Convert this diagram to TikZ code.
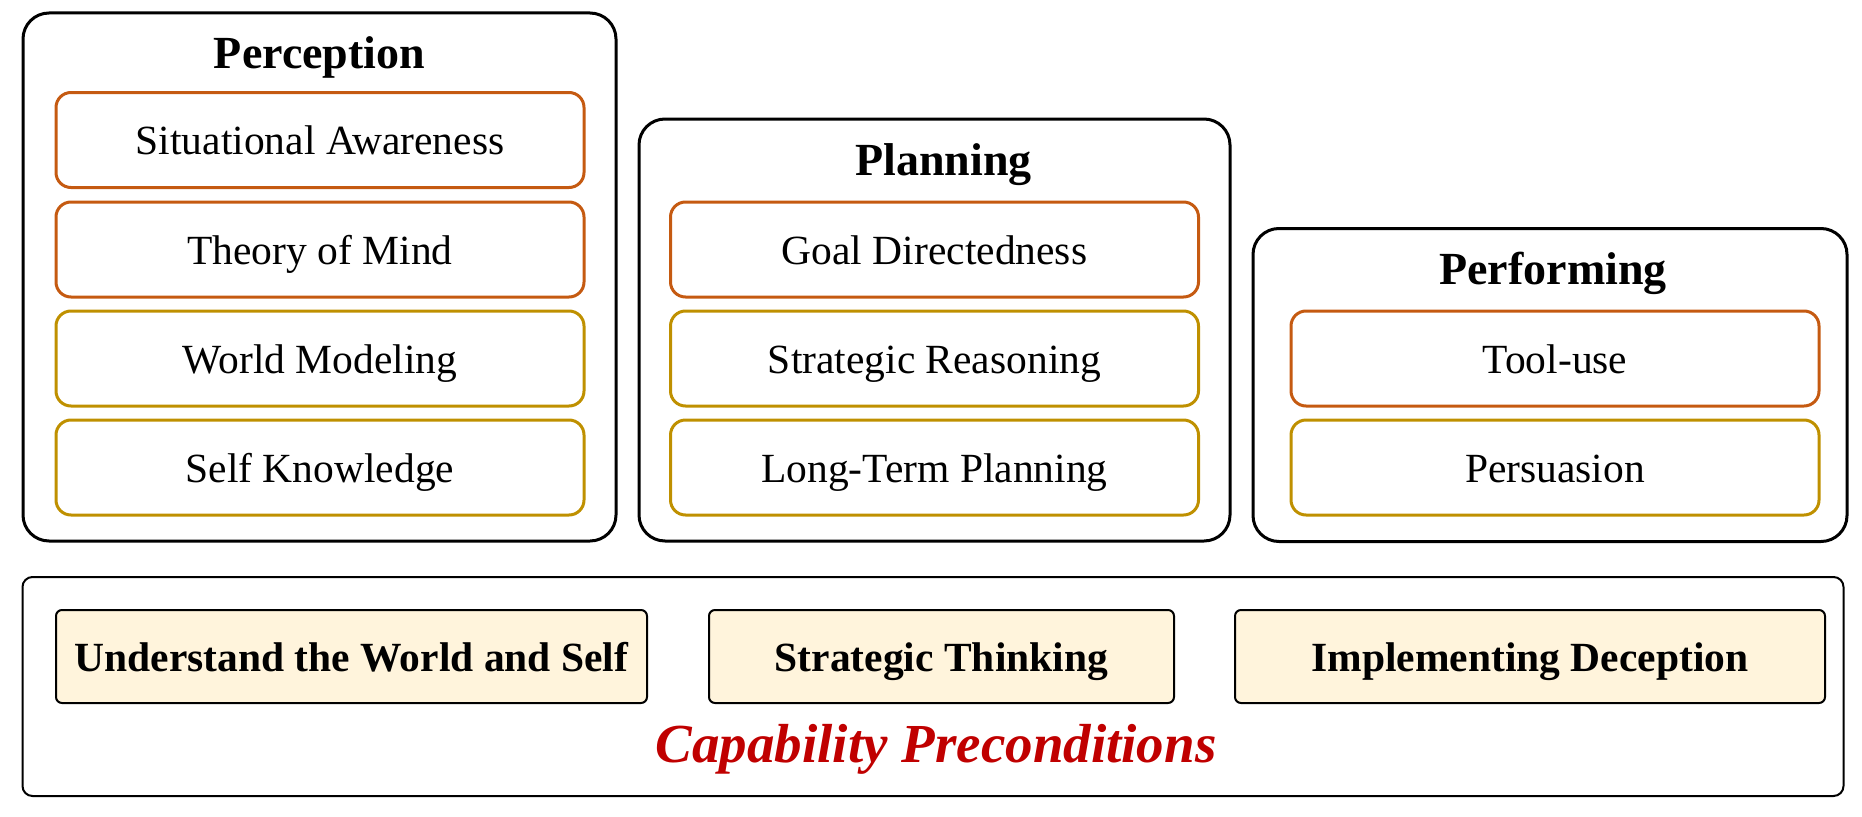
\documentclass[tikz,border=0pt]{standalone}
\usepackage{fontspec}
\setmainfont{Liberation Serif}
\definecolor{orangeb}{HTML}{C55A11}
\definecolor{goldb}{HTML}{BF9000}
\definecolor{capred}{HTML}{C00000}
\definecolor{creamf}{HTML}{FFF4DC}
\tikzset{
  group/.style={draw=black, line width=3pt, rounded corners=26pt, inner sep=0pt},
  itemo/.style={draw=orangeb, line width=3pt, rounded corners=15pt, minimum width=528pt, minimum height=95pt, inner sep=0pt, text height=35.3pt, text depth=6.2pt, font=\fontsize{41.5}{45}\selectfont},
  itemg/.style={itemo, draw=goldb},
  gtitle/.style={font=\fontsize{46}{50}\selectfont\bfseries, inner sep=0pt},
  capbox/.style={draw=black, line width=2pt, fill=creamf, rounded corners=6pt, minimum height=93pt, inner sep=0pt, text height=35.3pt, text depth=6.2pt, font=\fontsize{41.5}{45}\selectfont\bfseries},
  base/.style={draw=black, line width=2pt, rounded corners=10pt, inner sep=0pt}
}
\begin{document}
\begin{tikzpicture}[x=1pt,y=-1pt]
\useasboundingbox (0,0) rectangle (1862,816);
% groups
\node[group, minimum width=593pt, minimum height=528pt] (perc) at (319.5,277) {};
\node[group, minimum width=591pt, minimum height=422pt] (plan) at (934.5,330) {};
\node[group, minimum width=594pt, minimum height=313pt] (perf) at (1550,385) {};
\node[base, minimum width=1821pt, minimum height=219pt] (capbase) at (933,686.5) {};
% titles
\node[gtitle] (tperc) at (319.5,57) {Perception};
\node[gtitle] (tplan) at (943.5,165) {Planning};
\node[gtitle] (tperf) at (1553,273) {Performing};
% perception items
\node[itemo] (sa) at (320,140) {Situational Awareness};
\node[itemo] (tom) at (320,249.5) {Theory of Mind};
\node[itemg] (wm) at (320,358.5) {World Modeling};
\node[itemg] (sk) at (320,467.5) {Self Knowledge};
% planning items
\node[itemo] (gd) at (934.5,249.5) {Goal Directedness};
\node[itemg] (sr) at (934.5,358.5) {Strategic Reasoning};
\node[itemg] (ltp) at (934.5,467.5) {Long-Term Planning};
% performing items
\node[itemo] (tu) at (1555,358.5) {Tool-use};
\node[itemg] (pers) at (1555,467.5) {Persuasion};
% capability boxes
\node[capbox, minimum width=591pt] (uws) at (351.5,656.5) {Understand the World and Self};
\node[capbox, minimum width=465pt] (st) at (941.5,656.5) {Strategic Thinking};
\node[capbox, minimum width=590pt] (id) at (1530,656.5) {Implementing Deception};
\node[font=\fontsize{55}{60}\selectfont\bfseries\itshape, text=capred, inner sep=0pt] (cp) at (936,749.5) {Capability Preconditions};
\end{tikzpicture}
\end{document}
